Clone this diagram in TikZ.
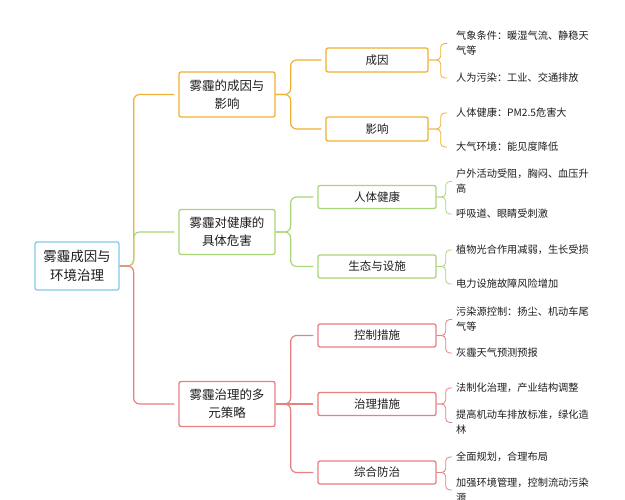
\documentclass[tikz,border=0pt]{standalone}
\usepackage{fontspec}
\setmainfont{Noto Sans CJK SC}
\definecolor{orangeC}{RGB}{240,176,50}
\definecolor{greenC}{RGB}{170,214,122}
\definecolor{redC}{RGB}{232,128,128}
\definecolor{blueC}{RGB}{132,200,235}
\definecolor{textC}{RGB}{30,30,30}
\tikzset{
  box/.style={draw, line width=1.3pt, rounded corners=2pt, align=center, inner sep=0pt, text=textC},
  rootbox/.style={box, draw=blueC, minimum width=84pt, minimum height=48pt, font=\fontsize{13.5}{19}\selectfont},
  lonebox/.style={box, minimum width=96pt, minimum height=45pt, font=\fontsize{12.5}{18}\selectfont},
  ltwoA/.style={box, draw=orangeC, minimum width=102pt, minimum height=24pt, font=\fontsize{11.5}{14}\selectfont},
  ltwoB/.style={box, minimum width=118pt, minimum height=23pt, font=\fontsize{11.5}{14}\selectfont},
  leaf/.style={anchor=west, align=left, inner sep=0pt, font=\fontsize{10.2}{15}\selectfont, text=textC},
  conn/.style={line width=1.2pt, rounded corners=6pt},
  bracel/.style={line width=0.8pt, rounded corners=4pt}
}
\begin{document}
\begin{tikzpicture}[x=1pt,y=-1pt]
\useasboundingbox[fill=white] (0,0) rectangle (625,500);
% root
\node[rootbox] (root) at (77,266) {雾霾成因与\\环境治理};
% level 1
\node[lonebox, draw=orangeC] (A) at (227,94.5) {雾霾的成因与\\影响};
\node[lonebox, draw=greenC] (B) at (227,232) {雾霾对健康的\\具体危害};
\node[lonebox, draw=redC] (C) at (227,404) {雾霾治理的多\\元策略};
% level 2
\node[ltwoA] (A1) at (377,60) {成因};
\node[ltwoA] (A2) at (377,129) {影响};
\node[ltwoB, draw=greenC] (B1) at (377,197) {人体健康};
\node[ltwoB, draw=greenC] (B2) at (377,266.5) {生态与设施};
\node[ltwoB, draw=redC] (C1) at (377,335.5) {控制措施};
\node[ltwoB, draw=redC] (C2) at (377,404) {治理措施};
\node[ltwoB, draw=redC] (C3) at (377,472.5) {综合防治};
% leaves
\node[leaf] (a11) at (456,43.5) {气象条件：暖湿气流、静稳天\\气等};
\node[leaf] (a12) at (456,78) {人为污染：工业、交通排放};
\node[leaf] (a21) at (456,113) {人体健康：PM2.5危害大};
\node[leaf] (a22) at (456,147) {大气环境：能见度降低};
\node[leaf] (b11) at (456,181.5) {户外活动受阻，胸闷、血压升\\高};
\node[leaf] (b12) at (456,214) {呼吸道、眼睛受刺激};
\node[leaf] (b21) at (456,250) {植物光合作用减弱，生长受损};
\node[leaf] (b22) at (456,284) {电力设施故障风险增加};
\node[leaf] (c11) at (456,319.5) {污染源控制：扬尘、机动车尾\\气等};
\node[leaf] (c12) at (456,353) {灰霾天气预测预报};
\node[leaf] (c21) at (456,388) {法制化治理，产业结构调整};
\node[leaf] (c22) at (456,422.5) {提高机动车排放标准，绿化造\\林};
\node[leaf] (c31) at (456,457) {全面规划，合理布局};
\node[leaf] (c32) at (456,490) {加强环境管理，控制流动污染\\源};
% level-1 connectors
\draw[conn, orangeC] (root.east) -- ++(14,0) |- ([xshift=-4pt]A.west);
\draw[conn, greenC] (root.east) -- ++(14,0) |- ([xshift=-4pt]B.west);
\draw[conn, redC] (root.east) -- ++(14,0) |- ([xshift=-4pt]C.west);
% level-2 connectors
\draw[conn, orangeC] (A.east) -- ++(15,0) |- ([xshift=-4pt]A1.west);
\draw[conn, orangeC] (A.east) -- ++(15,0) |- ([xshift=-4pt]A2.west);
\draw[conn, greenC] (B.east) -- ++(15,0) |- ([xshift=-4pt]B1.west);
\draw[conn, greenC] (B.east) -- ++(15,0) |- ([xshift=-4pt]B2.west);
\draw[conn, redC] (C.east) -- ++(15,0) |- ([xshift=-4pt]C1.west);
\draw[conn, redC] (C.east) -- ([xshift=-4pt]C2.west);
\draw[conn, redC] (C.east) -- ++(15,0) |- ([xshift=-4pt]C3.west);
% leaf braces
\draw[bracel, orangeC] (A1.east) -- ++(12,0) |- ([xshift=-9pt]a11.west);
\draw[bracel, orangeC] (A1.east) -- ++(12,0) |- ([xshift=-9pt]a12.west);
\draw[bracel, orangeC] (A2.east) -- ++(12,0) |- ([xshift=-9pt]a21.west);
\draw[bracel, orangeC] (A2.east) -- ++(12,0) |- ([xshift=-9pt]a22.west);
\draw[bracel, greenC] (B1.east) -- ++(9,0) |- ([xshift=-4pt]b11.west);
\draw[bracel, greenC] (B1.east) -- ++(9,0) |- ([xshift=-4pt]b12.west);
\draw[bracel, greenC] (B2.east) -- ++(9,0) |- ([xshift=-4pt]b21.west);
\draw[bracel, greenC] (B2.east) -- ++(9,0) |- ([xshift=-4pt]b22.west);
\draw[bracel, redC] (C1.east) -- ++(9,0) |- ([xshift=-4pt]c11.west);
\draw[bracel, redC] (C1.east) -- ++(9,0) |- ([xshift=-4pt]c12.west);
\draw[bracel, redC] (C2.east) -- ++(9,0) |- ([xshift=-4pt]c21.west);
\draw[bracel, redC] (C2.east) -- ++(9,0) |- ([xshift=-4pt]c22.west);
\draw[bracel, redC] (C3.east) -- ++(9,0) |- ([xshift=-4pt]c31.west);
\draw[bracel, redC] (C3.east) -- ++(9,0) |- ([xshift=-4pt]c32.west);
\end{tikzpicture}
\end{document}
